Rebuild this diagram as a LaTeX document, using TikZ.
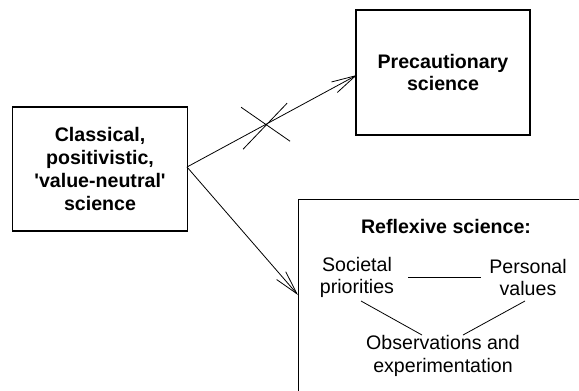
\documentclass[tikz,border=0pt]{standalone}
\usepackage{fontspec}
\setmainfont{Liberation Sans}
\usetikzlibrary{arrows.meta,calc}
\begin{document}
\begin{tikzpicture}[x=0.75pt,y=-0.75pt,
  every node/.style={font=\fontsize{14.7pt}{16.8pt}\selectfont, align=center, inner sep=0pt},
  box/.style={draw=black, line width=0.9pt},
  conn/.style={line width=0.6pt},
  arr/.style={conn, -{Straight Barb[length=18pt,width=9pt,line width=0.6pt]}}]
\useasboundingbox (0,0) rectangle (579,390);
\clip (0,0) rectangle (579,390);
% boxes
\node[box, minimum width=130.8pt, minimum height=93pt,
  font=\fontsize{14.7pt}{17.3pt}\selectfont\bfseries] (cls) at (100,169)
  {Classical,\\positivistic,\\\textquotesingle value-neutral\textquotesingle\\science};
\node[box, minimum width=130.5pt, minimum height=93.75pt,
  font=\fontsize{14.7pt}{16pt}\selectfont\bfseries] (pre) at (443,72.5)
  {Precautionary\\science};
\node[box, anchor=north west, minimum width=300pt, minimum height=200pt] (refl) at (298,199) {};
% inner texts
\node[font=\fontsize{14.7pt}{16.8pt}\selectfont\bfseries] (title) at (446,226) {Reflexive science:};
\node (soc) at (357,277.5) {Societal\\priorities};
\node (per) at (528,277.5) {Personal\\values};
\node (obs) at (443,356) {Observations and\\experimentation};
% inner connectors
\draw[conn, shorten <=10.5pt, shorten >=6pt] (soc.east) -- (per.west);
\coordinate (s1) at (361,301);
\coordinate (o1) at (422,335);
\coordinate (p1) at (525,301);
\coordinate (o2) at (463,335);
\draw[conn] (s1) -- (o1);
\draw[conn] (p1) -- (o2);
% arrows
\coordinate (pin) at (357,75);
\coordinate (rin) at (298,295);
\coordinate (cout) at (187,167);
\draw[arr] (cout) -- (pin);
\draw[arr] (cout) -- (rin);
% cross on the blocked arrow
\path (cout) -- (pin) coordinate[pos=0.465] (X);
\draw[conn] ($(X)+(-25,-17)$) -- ($(X)+(24,17)$);
\draw[conn] ($(X)+(-23,25)$) -- ($(X)+(21,-21)$);
\end{tikzpicture}
\end{document}
